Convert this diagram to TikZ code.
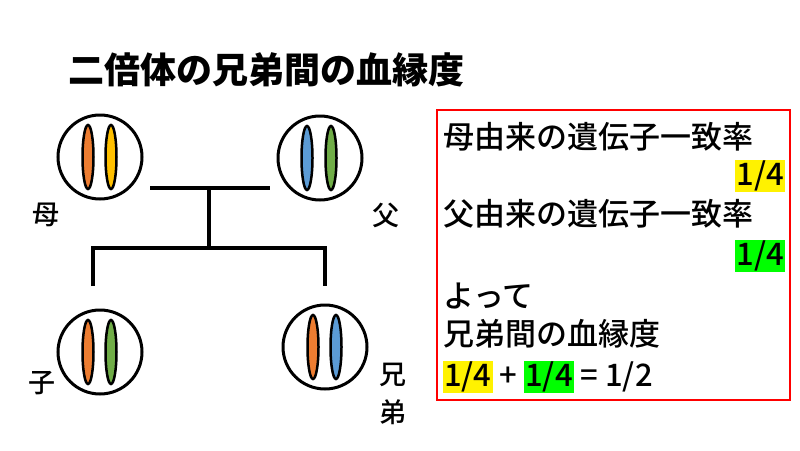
\documentclass[tikz,border=0pt]{standalone}
\usepackage{fontspec}
\usetikzlibrary{shapes.geometric}
\setmainfont{Noto Sans CJK JP Medium}
\newfontfamily\jpbold{Noto Sans CJK JP Black}
\begin{document}
\begin{tikzpicture}[x=1pt,y=-1pt,
  cell/.style={draw=black,line width=3pt,fill=white,circle,minimum size=84pt,inner sep=0pt},
  chrom/.style={draw=black,line width=2.5pt,ellipse,minimum width=11pt,minimum height=64pt,inner sep=0pt},
  lin/.style={line width=3.5pt},
  lab/.style={font=\fontsize{27pt}{29pt}\selectfont},
  txt/.style={font=\fontsize{31pt}{33pt}\selectfont,anchor=west,inner sep=0pt}]
\definecolor{co}{HTML}{ED7D31}\definecolor{cy}{HTML}{FFC000}
\definecolor{cb}{HTML}{5B9BD5}\definecolor{cg}{HTML}{70AD47}
\useasboundingbox[fill=white] (0,0) rectangle (800,450);
\node[font=\jpbold\fontsize{36pt}{38pt}\selectfont] (title) at (266,70) {二倍体の兄弟間の血縁度};
\node[cell] (m) at (100,157) {};
\node[cell] (f) at (320,158) {};
\node[cell] (c) at (100,352) {};
\node[cell] (s) at (325,347) {};
\node[chrom,fill=co] (m1) at (88,157) {};
\node[chrom,fill=cy] (m2) at (111,157) {};
\node[chrom,fill=cb] (f1) at (307,158) {};
\node[chrom,fill=cg] (f2) at (331,158) {};
\node[chrom,fill=co] (c1) at (88,352) {};
\node[chrom,fill=cg] (c2) at (111,352) {};
\node[chrom,fill=co] (s1) at (313,347) {};
\node[chrom,fill=cb] (s2) at (336,347) {};
\coordinate (a) at (150,188); \coordinate (b) at (270,188);
\coordinate (j) at (209,188); \coordinate (k) at (209,248);
\coordinate (l) at (93,248); \coordinate (r) at (325,248);
\coordinate (l2) at (93,286); \coordinate (r2) at (325,286);
\draw[lin] (a) -- (b);
\draw[lin] (j) -- (k);
\draw[lin,line join=miter] (l2) -- (l) -- (r) -- (r2);
\node[lab] (lm) at (46,215) {母};
\node[lab] (lf) at (386,215) {父};
\node[lab] (lc) at (42,383) {子};
\node[lab] (ls1) at (393,375) {兄};
\node[lab] (ls2) at (393,412) {弟};
\draw[red,line width=2pt] (437,110) rectangle (790,400);
\node[txt] (t1) at (443,137) {母由来の遺伝子一致率};
\node[txt,anchor=east,fill=yellow,inner sep=1pt] (t2) at (785,176) {1/4};
\node[txt] (t3) at (443,214) {父由来の遺伝子一致率};
\node[txt,anchor=east,fill=green,inner sep=1pt] (t4) at (785,256) {1/4};
\node[txt] (t5) at (443,296) {よって};
\node[txt] (t6) at (443,334) {兄弟間の血縁度};
\node[txt] (t7) at (443,377) {\setlength{\fboxsep}{1pt}\colorbox{yellow}{1/4} + \colorbox{green}{1/4} = 1/2};
\end{tikzpicture}
\end{document}
